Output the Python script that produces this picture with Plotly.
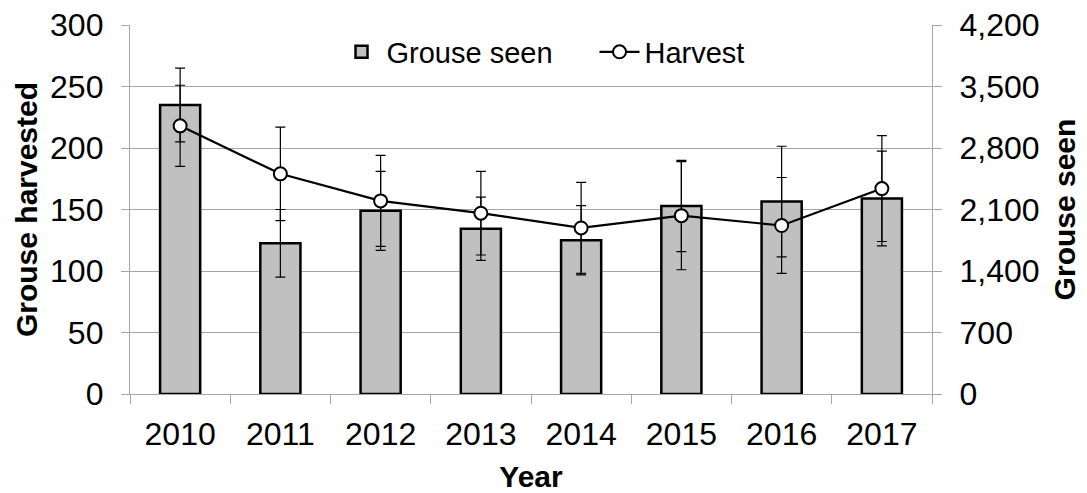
import plotly.graph_objects as go

years = ["2010", "2011", "2012", "2013", "2014", "2015", "2016", "2017"]
grouse_seen = [3290, 1715, 2085, 1880, 1750, 2140, 2190, 2225]
grouse_seen_err = [420, 385, 450, 360, 395, 520, 630, 540]
harvest = [218, 179, 157, 147, 135, 145, 137, 167]
harvest_err = [33, 38, 37, 34, 37, 44, 39, 43]
seen_ticks = [0, 700, 1400, 2100, 2800, 3500, 4200]
harvest_ticks = [0, 50, 100, 150, 200, 250, 300]

FONT = "Liberation Sans, Arial, sans-serif"

fig = go.Figure()
fig.add_trace(go.Bar(
    x=years, y=grouse_seen, name="Grouse seen", yaxis="y",
    marker=dict(color="#c0c0c0", line=dict(color="black", width=2.5)),
    width=0.4,
    error_y=dict(type="data", array=grouse_seen_err, visible=True,
                 color="black", thickness=1.2, width=5),
))
fig.add_trace(go.Scatter(
    x=years, y=harvest, name="Harvest", yaxis="y2", mode="lines+markers",
    line=dict(color="black", width=2.2),
    marker=dict(symbol="circle", size=13, color="white",
                line=dict(color="black", width=2)),
    error_y=dict(type="data", array=harvest_err, visible=True,
                 color="black", thickness=1.2, width=5),
))

grid = "#a6a6a6"
fig.update_layout(
    width=1087, height=493,
    margin=dict(l=130, r=155, t=25, b=99),
    paper_bgcolor="white", plot_bgcolor="white",
    font=dict(family=FONT, size=29, color="black"),
    showlegend=True,
    legend=dict(orientation="h", x=0.2575, xanchor="left", y=0.927, yanchor="middle",
                font=dict(size=29), bgcolor="rgba(0,0,0,0)",
                itemwidth=40, entrywidth=203, traceorder="normal"),
    xaxis=dict(
        type="category", showgrid=False, showline=True, linecolor=grid, linewidth=1.3,
        ticks="outside", ticklen=9, tickcolor=grid, tickson="boundaries",
        tickfont=dict(size=32), ticklabelstandoff=11, automargin=False,
        title=dict(text="<b>Year</b>", font=dict(size=30), standoff=16),
    ),
    yaxis=dict(
        side="right", range=[0, 4200], tickvals=seen_ticks,
        tickformat=",d", showgrid=True, gridcolor=grid, gridwidth=1.3,
        showline=True, linecolor=grid, linewidth=1.3,
        ticks="outside", ticklen=9, tickcolor=grid, automargin=False,
        tickfont=dict(size=32), ticklabelstandoff=11, zeroline=False,
        title=dict(text="<b>Grouse seen</b>", font=dict(size=30), standoff=15),
    ),
    yaxis2=dict(
        overlaying="y", side="left", range=[0, 300],
        tickvals=harvest_ticks,
        showgrid=False, showline=True, linecolor=grid, linewidth=1.3,
        ticks="outside", ticklen=8, tickcolor=grid, automargin=False,
        tickfont=dict(size=32), ticklabelstandoff=11, zeroline=False,
        title=dict(text="<b>Grouse harvested</b>", font=dict(size=30), standoff=3),
    ),
)

fig.write_html("out.html", config={"displayModeBar": False},
               post_script="document.body.style.margin='0';")
